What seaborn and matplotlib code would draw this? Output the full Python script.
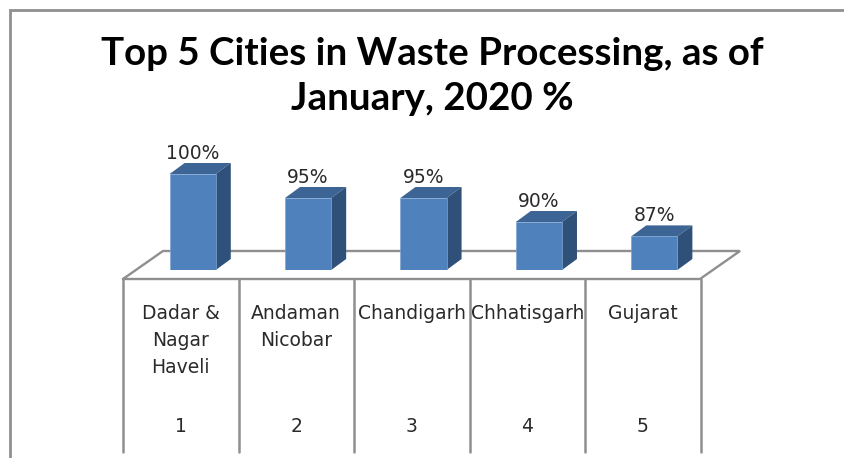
import matplotlib
matplotlib.use("Agg")
import matplotlib.pyplot as plt
from matplotlib.patches import Polygon
import pandas as pd
import seaborn as sns

title = "Top 5 Cities in Waste Processing, as of\nJanuary, 2020 %"
ranks = ["1", "2", "3", "4", "5"]
cities = ["Dadar &\nNagar\nHaveli", "Andaman\nNicobar", "Chandigarh", "Chhatisgarh", "Gujarat"]
values = [100, 95, 95, 90, 87]

W, H = 844, 458
FRONT, TOP, SIDE, EDGE = "#4F81BD", "#3C6494", "#2F5179", "#7FA3D0"
GREY = "#8F8F8F"
TXT = "#2A2A2A"

sns.set_theme(style="white")
plt.rcParams["font.family"] = ["DejaVu Sans"]
fig = plt.figure(figsize=(W / 100, H / 100), dpi=100, facecolor="white")

# pixel-space canvas for the frame and floor/table decoration
bg = fig.add_axes([0, 0, 1, 1], zorder=0)
bg.set_xlim(0, W); bg.set_ylim(H, 0); bg.axis("off")
bg.plot([9.5, 9.5, W], [H, 10, 10], color=GREY, lw=2, solid_joinstyle="miter")
bg.plot([123, 163, 740, 700, 123], [279, 251, 251, 279, 279], color=GREY, lw=1.7, solid_joinstyle="miter")
xs = [123 + 115.5 * i for i in range(6)]
for x in xs:
    bg.plot([x, x], [279, 452], color=GREY, lw=1.8)

# bars: axes spans the five categories, shifted for the perspective offset
left, right, base_y, top_y = 135, 712, 270, 126
ax = fig.add_axes([left / W, 1 - base_y / H, (right - left) / W, (base_y - top_y) / H], zorder=1)
ax.patch.set_alpha(0)
df = pd.DataFrame({"city": cities, "value": values})
sns.barplot(data=df, x="city", y="value", ax=ax, color=FRONT, saturation=1, width=0.4,
            edgecolor=EDGE, linewidth=0.5, zorder=3)
ax.set_xlim(-0.5, 4.5)
y_floor = 80
ax.set_ylim(y_floor, y_floor + (base_y - top_y) / 4.8)
ax.axis("off")

dx = 15 / ((right - left) / 5)
dy = 11 / 4.8
for p, v in zip(list(ax.patches), values):
    x0, x1, y1 = p.get_x(), p.get_x() + p.get_width(), p.get_height() + p.get_y()
    ax.add_patch(Polygon([(x0, y1), (x1, y1), (x1 + dx, y1 + dy), (x0 + dx, y1 + dy)],
                         facecolor=TOP, edgecolor="none", zorder=2, clip_on=False))
    ax.add_patch(Polygon([(x1, y_floor), (x1 + dx, y_floor + dy), (x1 + dx, y1 + dy), (x1, y1)],
                         facecolor=SIDE, edgecolor="none", zorder=2, clip_on=False))
    ax.text((x0 + x1) / 2, y1 + dy, f"{v}%", ha="center", va="bottom", fontsize=13.5,
            color=TXT, clip_on=False)

# table cells
for i, (c, r) in enumerate(zip(cities, ranks)):
    cx = (xs[i] + xs[i + 1]) / 2
    bg.text(cx, 304, c, ha="center", va="top", fontsize=13.5, color=TXT, linespacing=1.52)
    bg.text(cx, 426, r, ha="center", va="center", fontsize=13.5, color=TXT)

bg.text(432.5, 76.5, title, ha="center", va="center", fontsize=27.7, fontweight="bold",
        family="Lato", color="black", linespacing=1.42)

fig.savefig("out.png", dpi=100, facecolor="white")
